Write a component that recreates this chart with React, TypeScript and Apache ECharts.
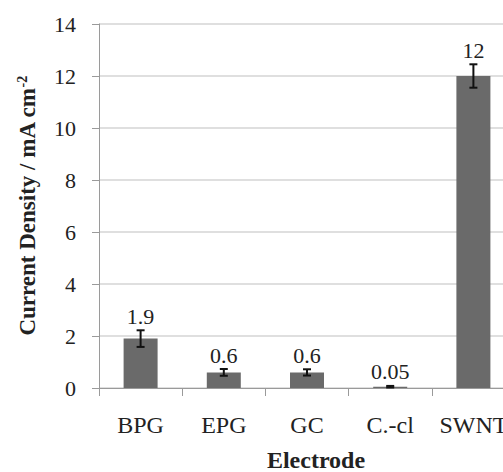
import React, { useEffect, useRef } from "react";
import * as echarts from "echarts";

const categories = ["BPG", "EPG", "GC", "C.-cl", "SWNT"];
const values = [1.9, 0.6, 0.6, 0.05, 12];
const errors = [0.32, 0.13, 0.12, 0.03, 0.45];
const valueLabels = ["1.9", "0.6", "0.6", "0.05", "12"];

const FONT = "Liberation Serif";

export default function App() {
  const ref = useRef<HTMLDivElement>(null);
  useEffect(() => {
    document.body.style.margin = "0";
    const chart = echarts.init(ref.current!, null, { renderer: "svg" });
    const option = {
      animation: false,
      textStyle: { fontFamily: FONT },
      grid: { left: 99, right: -12, top: 24, bottom: 84, containLabel: false, outerBoundsMode: "none" },
      xAxis: {
        type: "category",
        data: categories,
        name: "Electrode",
        nameLocation: "middle",
        nameGap: 60,
        nameTextStyle: { fontFamily: FONT, fontSize: 24, fontWeight: "bold", color: "#222", padding: [0, 0, 0, 18] },
        axisLine: { lineStyle: { color: "#9a9a9a", width: 1 } },
        axisTick: { show: true, alignWithLabel: false, length: 8, lineStyle: { color: "#9a9a9a" } },
        axisLabel: { fontFamily: FONT, fontSize: 24, color: "#222", margin: 25, interval: 0, hideOverlap: false },
      },
      yAxis: {
        type: "value",
        min: 0,
        max: 14,
        interval: 2,
        name: "{t|Current Density / mA cm}{s|-2}",
        nameLocation: "middle",
        nameGap: 60,
        nameTextStyle: {
          fontFamily: FONT,
          fontSize: 23,
          fontWeight: "bold",
          color: "#222",
          rich: {
            t: { fontFamily: FONT, fontSize: 23, fontWeight: "bold", color: "#222" },
            s: { fontFamily: FONT, fontSize: 14, fontWeight: "bold", color: "#222", verticalAlign: "top", padding: [0, 0, 10, 0] },
          },
        },
        axisLine: { show: true, lineStyle: { color: "#9a9a9a", width: 1 } },
        axisTick: { show: true, length: 7, lineStyle: { color: "#9a9a9a" } },
        axisLabel: { fontFamily: FONT, fontSize: 22, color: "#222", margin: 23 },
        splitLine: { lineStyle: { color: "#d4d4d4", width: 1.5 } },
      },
      series: [
        {
          type: "bar",
          data: values,
          barWidth: 34,
          itemStyle: { color: "#6a6a6a" },
        },
        {
          type: "custom",
          data: values.map((v, i) => [i, v, errors[i]]),
          z: 10,
          renderItem: (params: any, api: any) => {
            const i = api.value(0);
            const v = api.value(1);
            const e = api.value(2);
            const top = api.coord([i, v + e]);
            const bot = api.coord([i, v - e]);
            const x = top[0];
            const cap = 4;
            const st = { stroke: "#111", lineWidth: 2 };
            return {
              type: "group",
              children: [
                { type: "line", shape: { x1: x, y1: top[1], x2: x, y2: bot[1] }, style: st },
                { type: "line", shape: { x1: x - cap, y1: top[1], x2: x + cap, y2: top[1] }, style: st },
                { type: "line", shape: { x1: x - cap, y1: bot[1], x2: x + cap, y2: bot[1] }, style: st },
                {
                  type: "text",
                  x: x,
                  y: top[1] - 3,
                  style: {
                    text: valueLabels[params.dataIndex],
                    fontFamily: FONT,
                    fontSize: 22,
                    fill: "#222",
                    align: "center",
                    verticalAlign: "bottom",
                  },
                },
              ],
            };
          },
        },
      ],
    };
    chart.setOption(option as any);
    return () => chart.dispose();
  }, []);
  return (
    <div
      ref={ref}
      style={{ position: "fixed", left: 0, top: 0, width: 503, height: 472, background: "#fff" }}
    />
  );
}
